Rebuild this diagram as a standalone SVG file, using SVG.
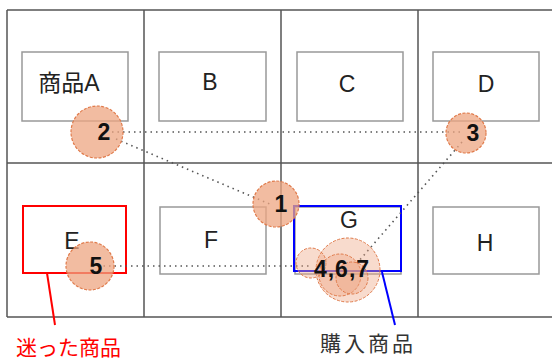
<svg xmlns="http://www.w3.org/2000/svg" width="552" height="360" viewBox="0 0 552 360">
<style>
.grid{stroke:#555;stroke-width:1.5;fill:none}
.box{fill:#fff;stroke:#999;stroke-width:1.5}
.lbl{font-family:"Liberation Sans","Noto Sans CJK JP",sans-serif;font-size:23px;fill:#222;text-anchor:middle}
.num{font-family:"Liberation Sans",sans-serif;font-size:23px;font-weight:bold;fill:#111;text-anchor:middle}
.dot{stroke:#555;stroke-width:1.6;stroke-dasharray:1.5 4;fill:none}
.c{fill:#eea582;fill-opacity:0.75;stroke:#e07a4a;stroke-width:1.2;stroke-dasharray:3 1.5}
.c2{fill:#eea582;fill-opacity:0.4;stroke:#e07a4a;stroke-width:1;stroke-dasharray:3 1.5}
.cap{font-family:"Noto Sans CJK JP",sans-serif;font-size:21px}
</style>
<rect width="552" height="360" fill="#fff"/>
<g id="grid">
<path class="grid" d="M7 10H555M7 163H555M7 317H555M7 10V317M144 10V317M281 10V317M418 10V317"/>
</g>
<g id="nodeA"><rect class="box" x="22" y="52" width="106" height="69"/><text class="lbl" x="69" y="91">商品A</text></g>
<g id="nodeB"><rect class="box" x="159" y="52" width="107" height="69"/><text class="lbl" x="210" y="90">B</text></g>
<g id="nodeC"><rect class="box" x="297" y="52" width="106" height="69"/><text class="lbl" x="347" y="92">C</text></g>
<g id="nodeD"><rect class="box" x="433" y="52" width="106" height="69"/><text class="lbl" x="486" y="92">D</text></g>
<g id="nodeE"><rect x="23" y="206" width="103" height="67" fill="#fff" stroke="#f00" stroke-width="2"/><text class="lbl" x="72" y="249">E</text></g>
<g id="nodeF"><rect class="box" x="160" y="207" width="106" height="67"/><text class="lbl" x="211" y="248">F</text></g>
<g id="nodeG"><rect class="box" x="295" y="207" width="106" height="67"/><rect x="294" y="206" width="107" height="65" fill="none" stroke="#00f" stroke-width="2"/><text class="lbl" x="349" y="228">G</text></g>
<g id="nodeH"><rect class="box" x="433" y="207" width="106" height="67"/><text class="lbl" x="485" y="251">H</text></g>
<g id="connectors">
<path class="dot" d="M112 132H462"/>
<path class="dot" d="M116 139L272 205"/>
<path class="dot" d="M462 142L358 262"/>
<path class="dot" d="M98 266H312"/>
<path d="M47 273L55 325" stroke="#f00" stroke-width="2" fill="none"/>
<path d="M382 272L395 325" stroke="#00f" stroke-width="2" fill="none"/>
</g>
<g id="visit2"><circle class="c" cx="97" cy="132" r="26"/><text class="num" x="104" y="140">2</text></g>
<g id="visit3"><circle class="c" cx="466" cy="133" r="20"/><text class="num" x="473" y="141">3</text></g>
<g id="visit1"><circle class="c" cx="276" cy="204" r="23"/><text class="num" x="281" y="212">1</text></g>
<g id="visit5"><circle class="c" cx="90" cy="266" r="24"/><text class="num" x="96" y="274">5</text></g>
<g id="visit467">
<circle class="c2" cx="348" cy="270" r="32"/>
<circle class="c2" cx="311" cy="263" r="15"/>
<circle class="c2" cx="340" cy="275" r="21"/>
<circle class="c2" cx="352" cy="278" r="16"/>
<text class="num" x="342" y="277" letter-spacing="1">4,6,7</text>
</g>
<g id="callouts">
<text class="cap" x="16" y="355" fill="#f00">迷った商品</text>
<text class="cap" x="320" y="351" fill="#333" letter-spacing="3">購入商品</text>
</g>
</svg>
